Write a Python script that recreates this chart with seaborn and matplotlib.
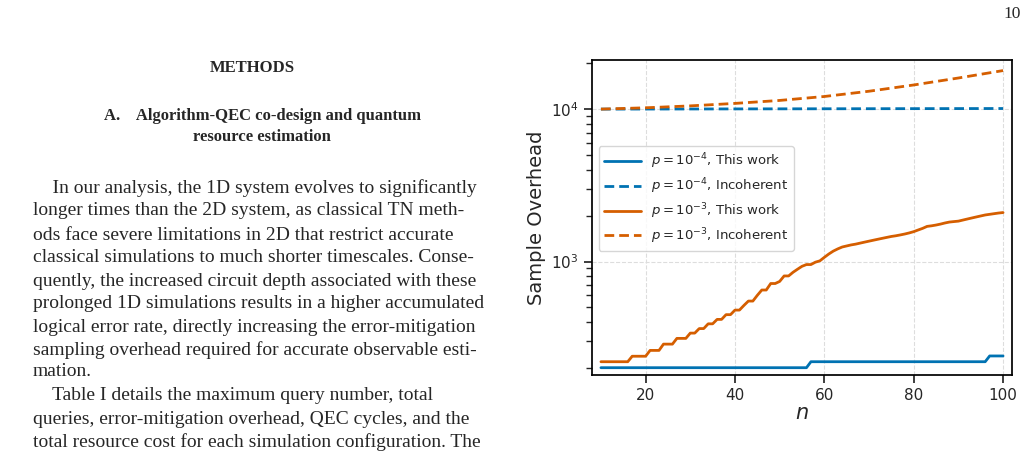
import numpy as np
import pandas as pd
import matplotlib
matplotlib.use("Agg")
import matplotlib.pyplot as plt
import seaborn as sns

sns.set_theme(style="ticks")
plt.rcParams["font.family"] = ["DejaVu Sans"]
plt.rcParams["mathtext.fontset"] = "dejavusans"

# ---- data ----
n = np.arange(10, 101)
blue_work = [201] * 47 + [220] * 40 + [240] * 4
orange_work = ([220] * 7 + [239] * 4 + [261] * 3 + [287] * 3 + [313] * 3 + [339] * 2
               + [363] * 2 + [390] * 2 + [417] * 2 + [448] * 2 + [480] * 2 + [515, 550, 550]
               + [600, 650, 650, 717, 717, 740, 804, 804, 850, 890, 930, 955, 955]
               + [990, 1010, 1065, 1120, 1170, 1210, 1245,
                  1265, 1285, 1300, 1320, 1340, 1360, 1380, 1400, 1420, 1440, 1460, 1475,
                  1494, 1515, 1540, 1570, 1610, 1650, 1700,
                  1715, 1735, 1760, 1790, 1815, 1828, 1840,
                  1870, 1900, 1930, 1960, 1990, 2020, 2040, 2060, 2080, 2095])
n_dash = [10, 20, 30, 40, 50, 60, 70, 80, 90, 100]
blue_incoh = [10000, 10010, 10020, 10030, 10040, 10050, 10060, 10070, 10080, 10090]
orange_incoh = [10000, 10200, 10500, 10900, 11400, 12100, 13100, 14400, 16000, 17900]

df = pd.concat([
    pd.DataFrame({"n": n, "v": blue_work, "s": r"$p=10^{-4}$, This work"}),
    pd.DataFrame({"n": n_dash, "v": blue_incoh, "s": r"$p=10^{-4}$, Incoherent"}),
    pd.DataFrame({"n": n, "v": orange_work, "s": r"$p=10^{-3}$, This work"}),
    pd.DataFrame({"n": n_dash, "v": orange_incoh, "s": r"$p=10^{-3}$, Incoherent"}),
])
series = df["s"].unique().tolist()
blue, orange = "#0072B2", "#D55E00"
palette = dict(zip(series, [blue, blue, orange, orange]))
dashes = dict(zip(series, ["", (3.5, 1.8), "", (3.5, 1.8)]))

fig = plt.figure(figsize=(10.28, 4.53), dpi=100)
ax = fig.add_axes([592 / 1028, 1 - 375 / 453, 420 / 1028, 315 / 453])
sns.lineplot(data=df, x="n", y="v", hue="s", style="s", palette=palette,
             dashes=dashes, linewidth=2, ax=ax, legend=True)
ax.set_yscale("log")
ax.set_xlim(8, 102)
ax.set_ylim(180, 21000)
ax.set_xticks([20, 40, 60, 80, 100])
ax.grid(True, which="major", linestyle="--", color="#dddddd", linewidth=0.8)
ax.set_xlabel(r"$n$", fontsize=15, labelpad=0)
ax.set_ylabel("Sample Overhead", fontsize=14)
ax.tick_params(labelsize=11)
for s in ax.spines.values():
    s.set_color("black")
leg = ax.legend(loc="center left", bbox_to_anchor=(0.0, 0.56), fontsize=9.5,
                handlelength=2.8, borderpad=0.4, labelspacing=0.4, frameon=True)
leg.set_title(None)

# ---- page text ----
serif = "Liberation Serif"
fig.text(1003 / 1028, 1 - 14 / 453, "10", family=serif, fontsize=12.5, va="center")
fig.text(252 / 1028, 1 - 68 / 453, "METHODS", family=serif, fontsize=12, weight="bold",
         ha="center", va="center")
fig.text(262 / 1028, 1 - 116 / 453, "A.    Algorithm-QEC co-design and quantum",
         family=serif, fontsize=12, weight="bold", ha="center", va="center")
fig.text(262 / 1028, 1 - 137 / 453, "resource estimation",
         family=serif, fontsize=12, weight="bold", ha="center", va="center")
body = [
    ("    In our analysis, the 1D system evolves to significantly", 188),
    ("longer times than the 2D system, as classical TN meth-", 211),
    ("ods face severe limitations in 2D that restrict accurate", 235),
    ("classical simulations to much shorter timescales. Conse-", 258),
    ("quently, the increased circuit depth associated with these", 281),
    ("prolonged 1D simulations results in a higher accumulated", 304),
    ("logical error rate, directly increasing the error-mitigation", 327),
    ("sampling overhead required for accurate observable esti-", 350),
    ("mation.", 372),
    ("    Table I details the maximum query number, total", 396),
    ("queries, error-mitigation overhead, QEC cycles, and the", 419),
    ("total resource cost for each simulation configuration. The", 442),
]
for txt, y in body:
    fig.text(33 / 1028, 1 - y / 453, txt, family=serif, fontsize=14, va="center")

fig.savefig("out.png", dpi=100)
